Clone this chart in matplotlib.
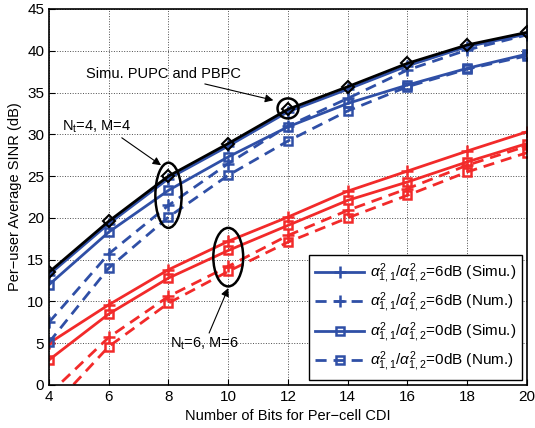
import numpy as np
import matplotlib
matplotlib.use('Agg')
import matplotlib.pyplot as plt
from matplotlib.patches import Ellipse
from matplotlib.lines import Line2D

plt.rcParams['font.family'] = ['Liberation Sans', 'DejaVu Sans']
plt.rcParams['mathtext.fontset'] = 'custom'
plt.rcParams['mathtext.rm'] = 'Liberation Sans'
plt.rcParams['mathtext.it'] = 'Liberation Sans:italic'

### data
bits = np.array([4, 6, 8, 10, 12, 14, 16, 18, 20])

pupc_pbpc = [13.5, 19.6, 25.0, 28.9, 33.0, 35.7, 38.5, 40.7, 42.2]

# Nt=4, M=4
b_6db_sim = [13.2, 19.3, 24.7, 28.6, 32.7, 35.4, 38.2, 40.5, 42.0]
b_6db_num = [7.5, 15.7, 21.5, 26.5, 31.0, 34.3, 37.7, 40.1, 41.9]
b_0db_sim = [12.0, 18.3, 23.3, 27.3, 30.9, 33.7, 35.9, 37.9, 39.6]
b_0db_num = [5.1, 14.0, 20.1, 25.1, 29.2, 32.8, 35.7, 37.8, 39.4]

# Nt=6, M=6
r_6db_sim = [5.0, 9.6, 13.8, 17.2, 20.1, 23.2, 25.6, 28.0, 30.3]
r_6db_num = [-1.1, 5.7, 10.6, 14.2, 17.9, 20.9, 23.5, 26.3, 28.6]
r_0db_sim = [3.0, 8.5, 12.8, 16.1, 19.1, 22.1, 24.3, 26.7, 28.9]
r_0db_num = [-3.1, 4.6, 9.8, 13.6, 17.1, 20.0, 22.7, 25.5, 27.8]

BLUE = '#2f4fa6'
RED = '#f22a2a'

fig = plt.figure(figsize=(5.35, 4.28), dpi=100)
ax = fig.add_axes([0.0916, 0.1005, 0.8934, 0.8785])

lw = 2
ms = 6
mew = 1.8
dash = (4, 2.5)

# red curves
ax.plot(bits, r_6db_sim, '-', color=RED, lw=lw, marker='+', ms=ms + 2, mew=mew)
ax.plot(bits, r_6db_num, '--', dashes=dash, color=RED, lw=lw, marker='+', ms=ms + 2, mew=mew)
ax.plot(bits, r_0db_sim, '-', color=RED, lw=lw, marker='s', ms=ms, mew=mew, mfc='none')
ax.plot(bits, r_0db_num, '--', dashes=dash, color=RED, lw=lw, marker='s', ms=ms, mew=mew, mfc='none')

# blue curves
ax.plot(bits, b_6db_sim, '-', color=BLUE, lw=lw, marker='+', ms=ms + 2, mew=mew)
ax.plot(bits, b_6db_num, '--', dashes=dash, color=BLUE, lw=lw, marker='+', ms=ms + 2, mew=mew)
ax.plot(bits, b_0db_sim, '-', color=BLUE, lw=lw, marker='s', ms=ms, mew=mew, mfc='none')
ax.plot(bits, b_0db_num, '--', dashes=dash, color=BLUE, lw=lw, marker='s', ms=ms, mew=mew, mfc='none')

ax.plot(bits, pupc_pbpc, '-', color='black', lw=lw, marker='D', ms=6, mew=1.5, mfc='none')

ax.set_xlim(4, 20)
ax.set_ylim(0, 45)
ax.set_xticks(np.arange(4, 21, 2))
ax.set_yticks(np.arange(0, 46, 5))
ax.tick_params(direction='in', labelsize=11, length=4)
ax.grid(True, linestyle=':', color='black', lw=0.7, alpha=0.7)
ax.set_xlabel('Number of Bits for Per\u2212cell CDI', fontsize=10.5)
ax.set_ylabel('Per\u2212user Average SINR (dB)', fontsize=10.5)
for sp in ax.spines.values():
    sp.set_linewidth(1.2)

# ellipses + annotations
for (cx, cy, w, h) in [(8.0, 22.7, 0.88, 7.8), (10.0, 15.3, 1.0, 7.0), (12.0, 33.1, 0.7, 2.4)]:
    ax.add_patch(Ellipse((cx, cy), w, h, fill=False, ec='black', lw=1.8, zorder=5))

ax.annotate('Simu. PUPC and PBPC', xy=(11.6, 34.0), xytext=(5.25, 37.2),
            fontsize=10.5, va='center',
            arrowprops=dict(arrowstyle='-|>', color='black', lw=0.8, shrinkA=0,
                            mutation_scale=12))
ax.annotate(r'N$_{\rm t}$=4, M=4', xy=(7.75, 26.3), xytext=(4.45, 30.9),
            fontsize=10.5, va='center',
            arrowprops=dict(arrowstyle='-|>', color='black', lw=0.8, shrinkA=0,
                            shrinkB=0, mutation_scale=12, relpos=(0.8, 0)))
ax.annotate(r'N$_{\rm t}$=6, M=6', xy=(10.0, 11.6), xytext=(8.05, 4.9),
            fontsize=10.5, va='center',
            arrowprops=dict(arrowstyle='-|>', color='black', lw=0.8, shrinkA=0,
                            shrinkB=0, mutation_scale=12, relpos=(0.55, 1)))

# legend
lab = r'$\alpha^2_{1,1}/\alpha^2_{1,2}$'
handles = [
    Line2D([], [], ls='-', color=BLUE, lw=lw, marker='+', ms=ms + 2, mew=mew),
    Line2D([], [], ls='--', dashes=dash, color=BLUE, lw=lw, marker='+', ms=ms + 2, mew=mew),
    Line2D([], [], ls='-', color=BLUE, lw=lw, marker='s', ms=ms, mew=mew, mfc='none'),
    Line2D([], [], ls='--', dashes=dash, color=BLUE, lw=lw, marker='s', ms=ms, mew=mew, mfc='none'),
]
labels = [lab + '=6dB (Simu.)', lab + '=6dB (Num.)', lab + '=0dB (Simu.)', lab + '=0dB (Num.)']
leg = ax.legend(handles, labels, loc='lower right', fontsize=11, handlelength=3.2,
                fancybox=False, edgecolor='black', framealpha=1, borderaxespad=0.3,
                labelspacing=0.35, handletextpad=0.4)
leg.get_frame().set_linewidth(1.0)

fig.savefig('out.png', dpi=100)
